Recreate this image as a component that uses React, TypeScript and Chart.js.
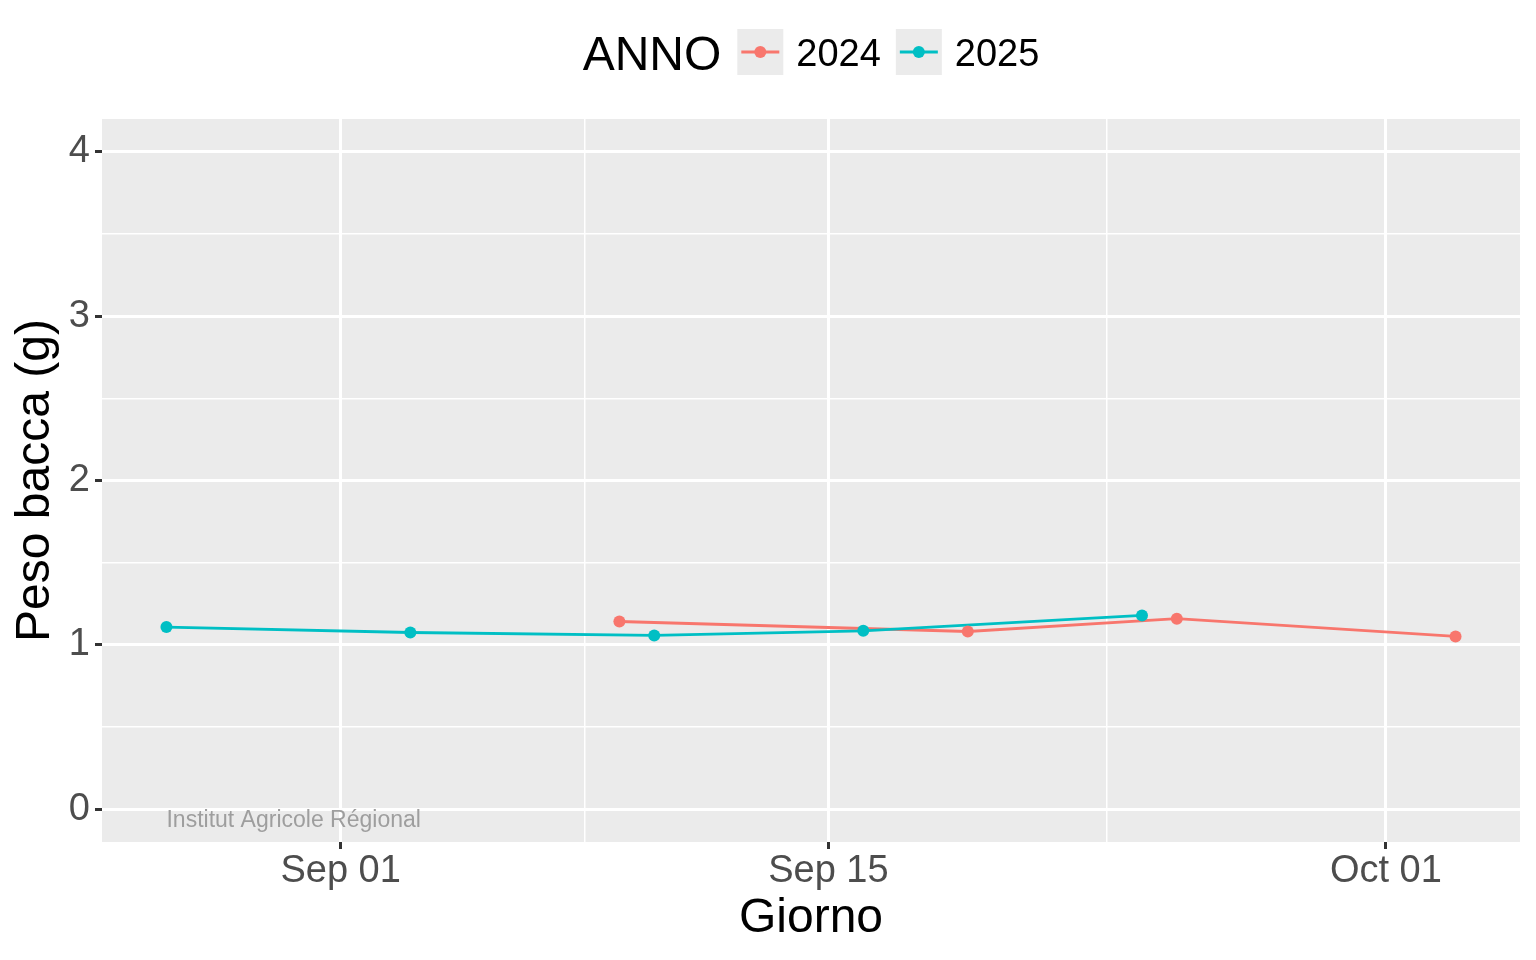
import { useEffect, useRef } from 'react';
import { Chart, registerables } from 'chart.js';

Chart.register(...registerables);

// Dati
const dates2024 = ['2024-09-09', '2024-09-19', '2024-09-25', '2024-10-03'];
const peso2024 = [1.142, 1.081, 1.159, 1.051];
const dates2025 = ['2025-08-27', '2025-09-03', '2025-09-10', '2025-09-16', '2025-09-24'];
const peso2025 = [1.108, 1.075, 1.057, 1.085, 1.179];

const xMajorTicks = ['09-01', '09-15', '10-01'];
const xMinorTicks = ['09-08', '09-23'];
const yMajorTicks = [0, 1, 2, 3, 4];
const yMinorTicks = [0.5, 1.5, 2.5, 3.5];
const yLimits = [0, 4];

const annotText = 'Institut Agricole Régional';
const annotDate = '2025-08-27';
const annotY = -0.07;

const COL_2024 = '#F8766D';
const COL_2025 = '#00BFC4';
const FONT = '"Liberation Sans", Arial, Helvetica, sans-serif';
const MONTHS = ['Jan', 'Feb', 'Mar', 'Apr', 'May', 'Jun', 'Jul', 'Aug', 'Sep', 'Oct', 'Nov', 'Dec'];

// giorni dal 1 settembre (stesso asse per entrambi gli anni)
function dayOfSeason(s: string) {
  const parts = s.split('-').map(Number);
  const [y, m, d] = parts.length === 3 ? parts : [2025, parts[0], parts[1]];
  return (Date.UTC(y, m - 1, d) - Date.UTC(y, 8, 1)) / 86400000;
}

function dayLabel(v: number) {
  const dt = new Date(Date.UTC(2025, 8, 1) + v * 86400000);
  return MONTHS[dt.getUTCMonth()] + ' ' + String(dt.getUTCDate()).padStart(2, '0');
}

const allDays = [...dates2024, ...dates2025].map(dayOfSeason);
const xMin = Math.min(...allDays);
const xMax = Math.max(...allDays);
const xPad = (xMax - xMin) * 0.05;
const yPad = (yLimits[1] - yLimits[0]) * 0.05;

const majorX = xMajorTicks.map(dayOfSeason);
const majorY = yMajorTicks;

const panelPlugin = {
  id: 'panel',
  beforeDraw(chart: any) {
    const { ctx, chartArea: a } = chart;
    ctx.save();
    ctx.fillStyle = '#EBEBEB';
    ctx.fillRect(a.left, a.top, a.right - a.left, a.bottom - a.top);
    ctx.restore();
  },
  afterDraw(chart: any) {
    const { ctx, chartArea: a } = chart;
    ctx.save();
    // annotazione
    ctx.fillStyle = '#9E9E9E';
    ctx.font = `23px ${FONT}`;
    ctx.textAlign = 'left';
    ctx.textBaseline = 'middle';
    ctx.fillText(annotText, chart.scales.x.getPixelForValue(dayOfSeason(annotDate)), chart.scales.y.getPixelForValue(annotY));

    // legenda in alto
    const items = [
      { label: '2024', color: COL_2024 },
      { label: '2025', color: COL_2025 },
    ];
    ctx.font = `48px ${FONT}`;
    const titleW = ctx.measureText('ANNO').width;
    ctx.font = `38px ${FONT}`;
    const labW = items.map(it => ctx.measureText(it.label).width);
    const key = 46;
    const total = titleW + 16 + items.reduce((s, _, i) => s + key + 13 + labW[i], 0) + 15;
    let x = (a.left + a.right) / 2 - total / 2;
    const cy = 52;
    ctx.fillStyle = '#000000';
    ctx.textBaseline = 'alphabetic';
    ctx.font = `48px ${FONT}`;
    ctx.fillText('ANNO', x, 70);
    x += titleW + 16;
    items.forEach((it, i) => {
      ctx.fillStyle = '#EBEBEB';
      ctx.fillRect(x, cy - key / 2, key, key);
      ctx.strokeStyle = it.color;
      ctx.lineWidth = 3;
      ctx.beginPath();
      ctx.moveTo(x + 4, cy);
      ctx.lineTo(x + key - 4, cy);
      ctx.stroke();
      ctx.fillStyle = it.color;
      ctx.beginPath();
      ctx.arc(x + key / 2, cy, 6, 0, Math.PI * 2);
      ctx.fill();
      x += key + 13;
      ctx.fillStyle = '#000000';
      ctx.font = `38px ${FONT}`;
      ctx.fillText(it.label, x, 66);
      x += labW[i] + 15;
    });
    ctx.restore();
  },
};

const isMajorX = (v: number) => majorX.includes(v);
const isMajorY = (v: number) => majorY.includes(v);

export default function App() {
  const canvasRef = useRef<HTMLCanvasElement>(null);

  useEffect(() => {
    document.body.style.margin = '0';
    if (!canvasRef.current) return;

    const pts = (dates: string[], vals: number[]) => dates.map((d, i) => ({ x: dayOfSeason(d), y: vals[i] }));

    const chart = new Chart(canvasRef.current, {
      type: 'scatter',
      data: {
        datasets: [
          { label: '2025', data: pts(dates2025, peso2025), showLine: false, pointRadius: 6, pointBackgroundColor: COL_2025, pointBorderWidth: 0, order: 0 },
          { label: '2024', data: pts(dates2024, peso2024), showLine: false, pointRadius: 6, pointBackgroundColor: COL_2024, pointBorderWidth: 0, order: 1 },
          { label: '2025 linea', data: pts(dates2025, peso2025), showLine: true, borderColor: COL_2025, borderWidth: 2.8, pointRadius: 0, order: 2 },
          { label: '2024 linea', data: pts(dates2024, peso2024), showLine: true, borderColor: COL_2024, borderWidth: 2.8, pointRadius: 0, order: 3 },
        ],
      },
      options: {
        animation: false,
        responsive: true,
        maintainAspectRatio: false,
        events: [],
        layout: { padding: { left: 0, right: 16, top: 119, bottom: 0 } },
        plugins: {
          legend: { display: false },
          tooltip: { enabled: false },
        },
        scales: {
          x: {
            type: 'linear',
            min: xMin - xPad,
            max: xMax + xPad,
            afterBuildTicks: (scale: any) => {
              scale.ticks = [...majorX, ...xMinorTicks.map(dayOfSeason)].sort((a, b) => a - b).map(v => ({ value: v }));
            },
            afterFit: (scale: any) => { scale.height = 118; },
            border: { display: false },
            grid: {
              color: '#FFFFFF',
              lineWidth: (c: any) => (c.tick && isMajorX(c.tick.value) ? 3 : 1.5),
              tickColor: (c: any) => (c.tick && isMajorX(c.tick.value) ? '#333333' : 'rgba(0,0,0,0)'),
              tickLength: 7,
              tickWidth: 3,
            },
            ticks: {
              autoSkip: false,
              maxRotation: 0,
              padding: 4,
              color: '#4D4D4D',
              font: { family: FONT, size: 38, lineHeight: 1 },
              callback: (v: any) => (isMajorX(Number(v)) ? dayLabel(Number(v)) : ''),
            },
            title: {
              display: true,
              text: 'Giorno',
              color: '#000000',
              font: { family: FONT, size: 48 },
              padding: { top: 0, bottom: 12 },
            },
          },
          y: {
            type: 'linear',
            min: yLimits[0] - yPad,
            max: yLimits[1] + yPad,
            afterBuildTicks: (scale: any) => {
              scale.ticks = [...yMajorTicks, ...yMinorTicks].sort((a, b) => a - b).map(v => ({ value: v }));
            },
            afterFit: (scale: any) => { scale.width = 102; },
            border: { display: false },
            grid: {
              color: '#FFFFFF',
              lineWidth: (c: any) => (c.tick && isMajorY(c.tick.value) ? 3 : 1.5),
              tickColor: (c: any) => (c.tick && isMajorY(c.tick.value) ? '#333333' : 'rgba(0,0,0,0)'),
              tickLength: 7,
              tickWidth: 3,
            },
            ticks: {
              autoSkip: false,
              padding: 5,
              color: '#4D4D4D',
              font: { family: FONT, size: 38 },
              callback: (v: any) => (isMajorY(Number(v)) ? String(v) : ''),
            },
            title: {
              display: true,
              text: 'Peso bacca (g)',
              color: '#000000',
              font: { family: FONT, size: 48 },
              padding: { top: 7, bottom: 0 },
            },
          },
        },
      },
      plugins: [panelPlugin],
    });

    return () => chart.destroy();
  }, []);

  return (
    <div style={{ position: 'relative', width: 1536, height: 960, background: '#FFFFFF' }}>
      <canvas ref={canvasRef} />
    </div>
  );
}
